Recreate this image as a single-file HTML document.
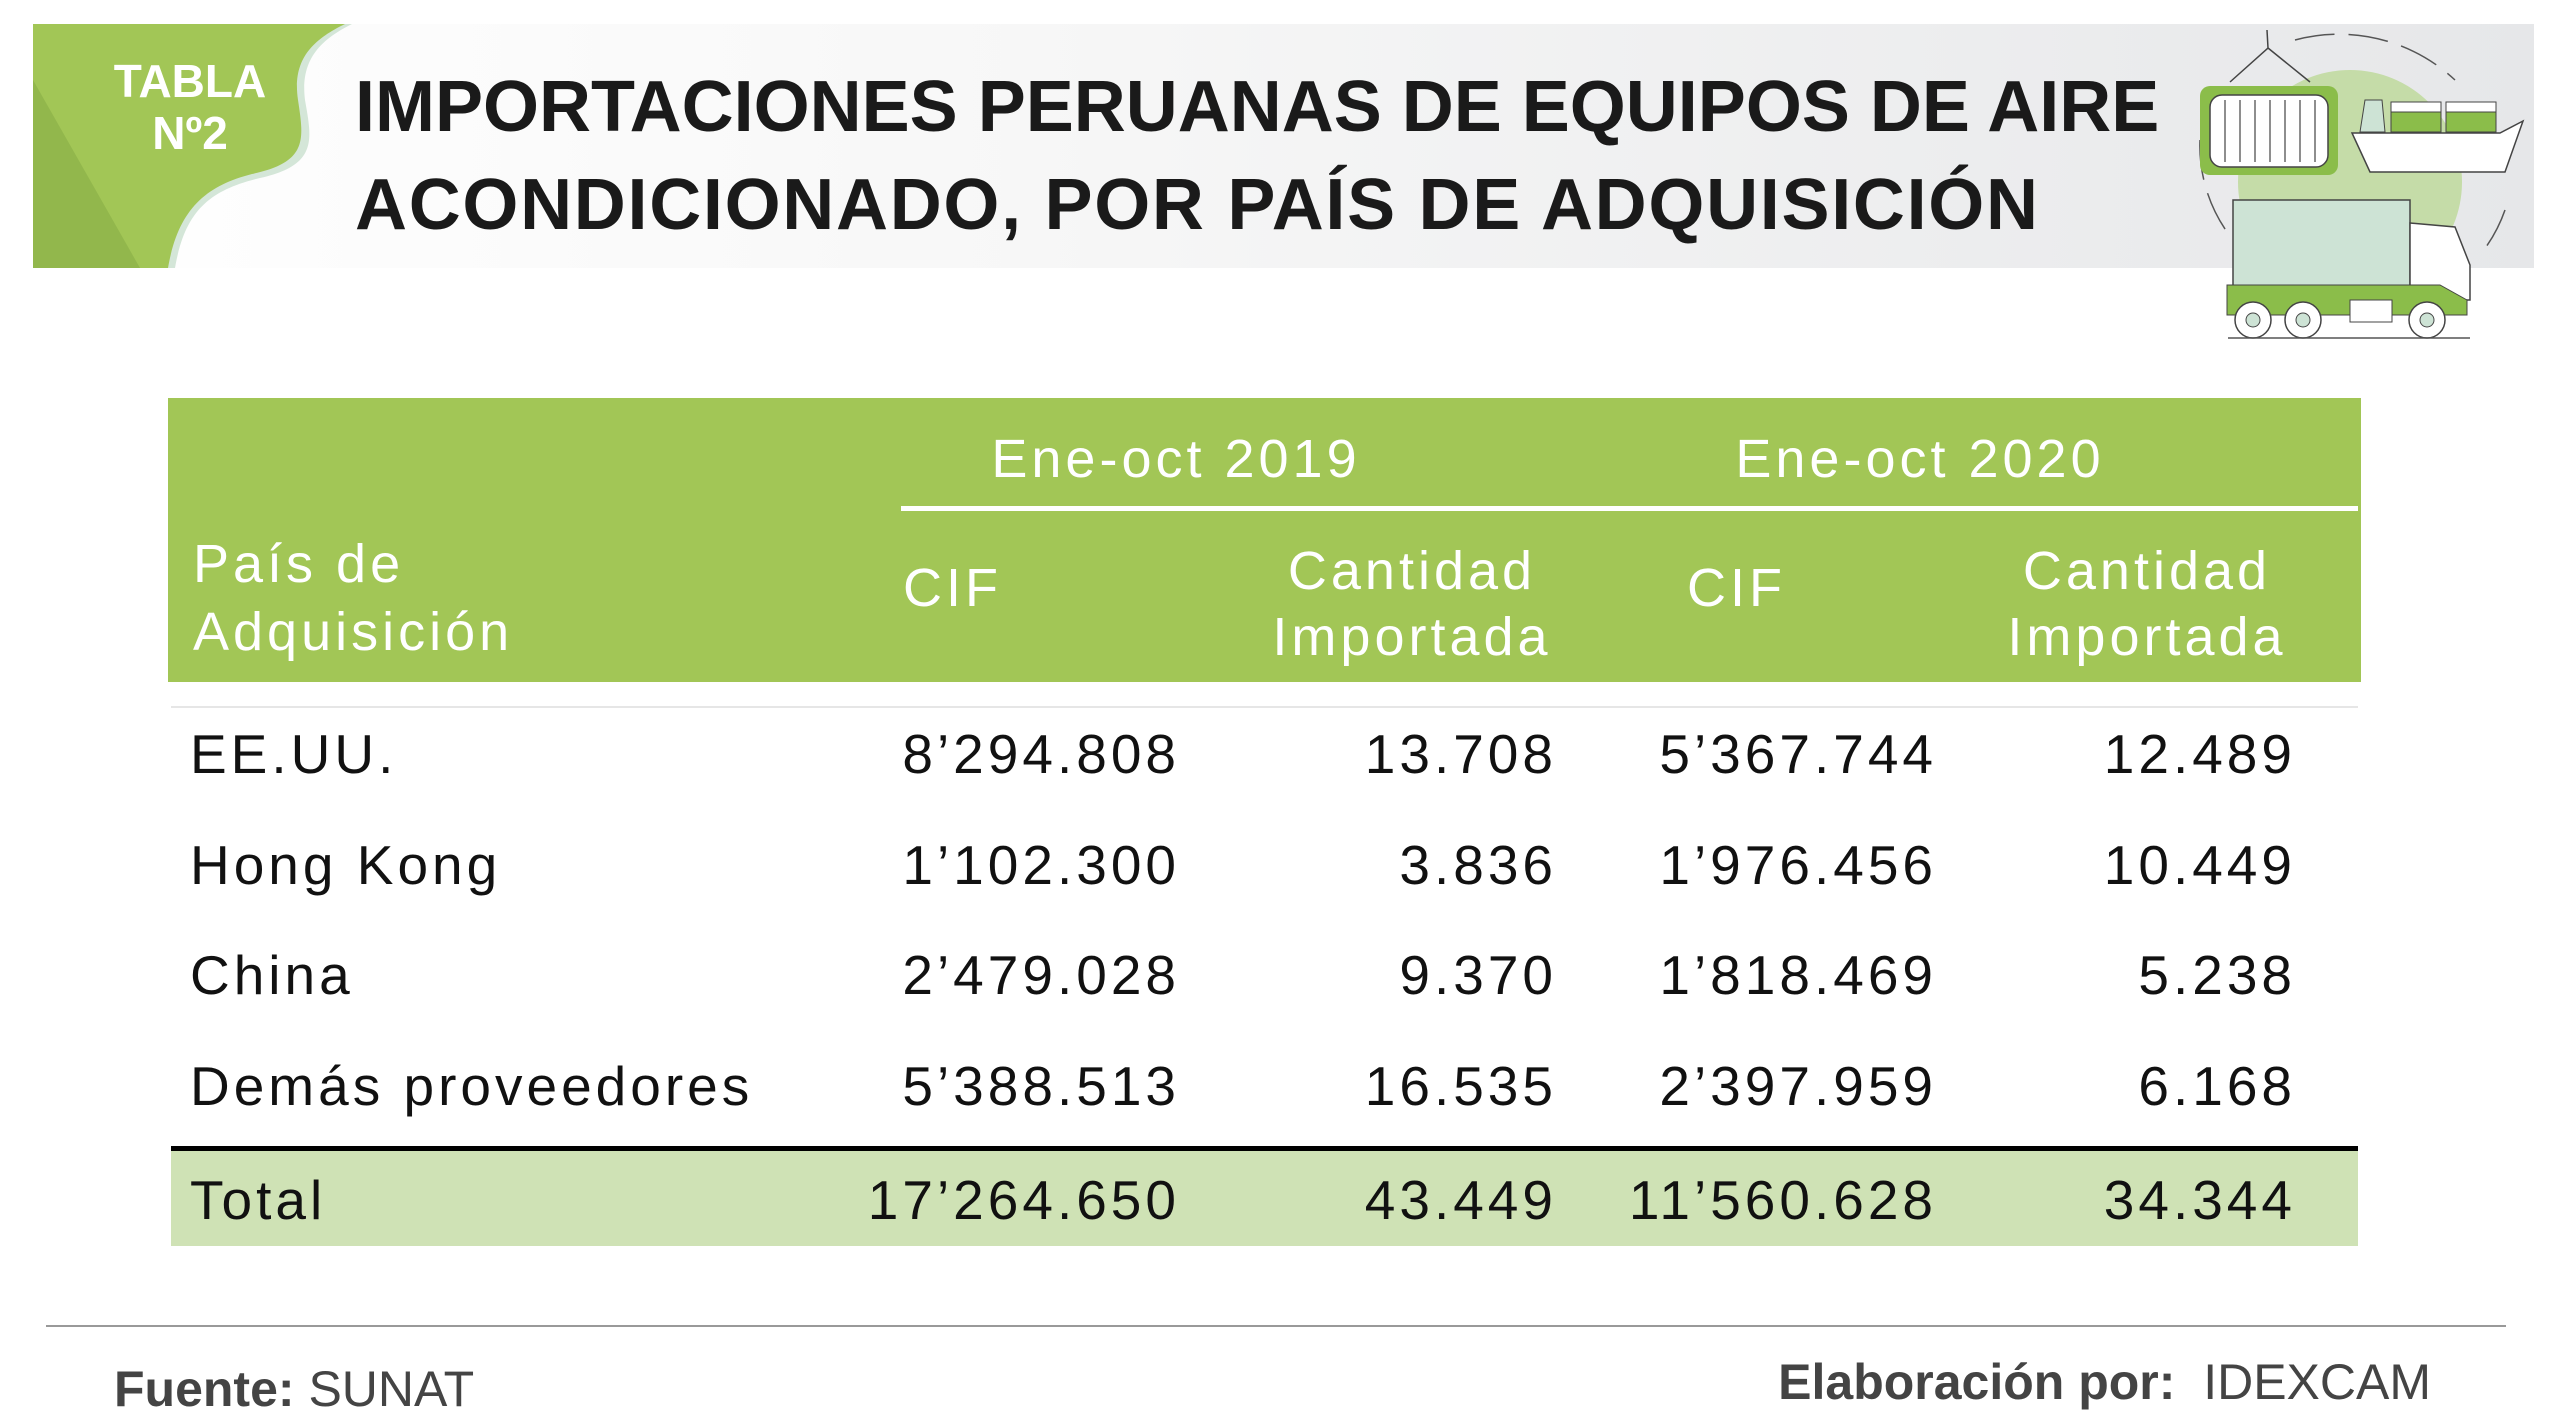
<!DOCTYPE html>
<html><head><meta charset="utf-8"><style>
html,body{margin:0;padding:0;background:#fff;}
body{width:2560px;height:1426px;position:relative;overflow:hidden;font-family:"Liberation Sans",sans-serif;}
.a{position:absolute;white-space:nowrap;}
.hd{color:#fff;font-size:54px;line-height:1;letter-spacing:4px;}
.num{font-size:55px;color:#111;line-height:1;text-align:right;letter-spacing:4px;margin-right:-4px;}
.lbl{font-size:55px;color:#111;line-height:1;letter-spacing:4px;}
</style></head><body>
<div class="a" style="left:33px;top:24px;width:2501px;height:244px;background:linear-gradient(90deg,#ffffff 0%,#f7f7f7 40%,#e6e7e9 100%);"></div>
<svg class="a" style="left:0;top:0" width="2560" height="360" viewBox="0 0 2560 360">
 <path d="M33 24 L352 24 C320 40 300 60 305 100 C312 140 318 165 260 178 C210 190 185 210 175 268 L33 268 Z" fill="#d4e6d8"/>
 <path d="M33 24 L345 24 C312 40 292 60 298 100 C304 140 308 162 252 174 C205 186 178 210 168 268 L33 268 Z" fill="#a2c656"/>
 <path d="M33 80 L140 268 L33 268 Z" fill="#8cb048" opacity="0.7"/>
 <circle cx="2350" cy="182" r="112" fill="#c5dca8"/>
 <path d="M2200 140 A150 150 0 0 0 2240 248 M2505 210 A150 150 0 0 1 2480 255 M2295 40 A170 170 0 0 1 2455 80" fill="none" stroke="#555" stroke-width="1.5" stroke-dasharray="40 14"/>
 <path d="M2267 30 L2268 48 L2230 82 M2268 48 L2310 82" fill="none" stroke="#444" stroke-width="1.5"/>
 <rect x="2200" y="86" width="138" height="89" rx="10" fill="#8bbd4a"/>
 <rect x="2210" y="95" width="118" height="72" rx="12" fill="#fff" stroke="#444" stroke-width="1.5"/>
 <path d="M2225 100v62M2240 100v62M2255 100v62M2270 100v62M2285 100v62M2300 100v62M2315 100v62" stroke="#444" stroke-width="1.2"/>
 <rect x="2391" y="102" width="50" height="30" fill="#fff" stroke="#444"/><rect x="2391" y="112" width="50" height="20" fill="#8bbd4a" stroke="#444"/>
 <rect x="2446" y="102" width="50" height="30" fill="#fff" stroke="#444"/><rect x="2446" y="112" width="50" height="20" fill="#8bbd4a" stroke="#444"/>
 <path d="M2365 100 L2382 100 L2385 132 L2360 132 Z" fill="#cde3d5" stroke="#444"/>
 <path d="M2352 133 L2500 133 L2523 121 L2505 172 L2370 172 Z" fill="#fff" stroke="#444" stroke-width="1.5"/>
 <rect x="2233" y="200" width="177" height="87" fill="#cde3d5" stroke="#444" stroke-width="1.5"/>
 <path d="M2410 223 L2455 227 L2470 265 L2470 300 L2410 300 Z" fill="#fff" stroke="#444" stroke-width="1.5"/>
 <path d="M2227 285 L2440 285 L2467 300 L2467 315 L2227 315 Z" fill="#8bbd4a" stroke="#444"/>
 <g fill="#fff" stroke="#444" stroke-width="1.5"><circle cx="2253" cy="320" r="18"/><circle cx="2303" cy="320" r="18"/><circle cx="2427" cy="320" r="18"/></g>
 <g fill="#cde3d5" stroke="#444"><circle cx="2253" cy="320" r="7"/><circle cx="2303" cy="320" r="7"/><circle cx="2427" cy="320" r="7"/></g>
 <rect x="2350" y="300" width="42" height="22" fill="#fff" stroke="#444"/>
 <line x1="2228" y1="338" x2="2470" y2="338" stroke="#555" stroke-width="1.5"/>
</svg>
<div class="a" style="left:95px;top:55px;width:190px;text-align:center;color:#fff;font-weight:bold;font-size:46px;line-height:52px;">TABLA<br>Nº2</div>
<div class="a" style="left:355px;top:58px;font-weight:bold;font-size:72px;line-height:98px;color:#1a1a1a;">IMPORTACIONES PERUANAS DE EQUIPOS DE AIRE<br><span style="letter-spacing:1.7px">ACONDICIONADO, POR PAÍS DE ADQUISICIÓN</span></div>

<div class="a" style="left:168px;top:398px;width:2193px;height:284px;background:#a2c656;"></div>
<div class="a" style="left:901px;top:506px;width:1457px;height:5px;background:#fff;"></div>
<div class="a hd" style="left:900px;width:552px;top:432px;text-align:center;">Ene-oct 2019</div>
<div class="a hd" style="left:1645px;width:550px;top:432px;text-align:center;">Ene-oct 2020</div>
<div class="a hd" style="left:193px;top:530px;line-height:68px;">País de<br>Adquisición</div>
<div class="a hd" style="left:903px;top:561px;">CIF</div>
<div class="a hd" style="left:1687px;top:561px;">CIF</div>
<div class="a hd" style="left:1212px;width:400px;top:538px;line-height:66px;text-align:center;">Cantidad<br>Importada</div>
<div class="a hd" style="left:1947px;width:400px;top:538px;line-height:66px;text-align:center;">Cantidad<br>Importada</div>
<div class="a" style="left:171px;top:706px;width:2187px;height:2px;background:#e6e6e6;"></div>

<div class="a" style="left:171px;top:1146px;width:2187px;height:5px;background:#000;"></div>
<div class="a" style="left:171px;top:1151px;width:2187px;height:95px;background:#cfe2b5;"></div>

<div class="a lbl" style="left:190px;top:727px;">EE.UU.</div>
<div class="a lbl" style="left:190px;top:838px;">Hong Kong</div>
<div class="a lbl" style="left:190px;top:948px;">China</div>
<div class="a lbl" style="left:190px;top:1059px;">Demás proveedores</div>
<div class="a lbl" style="left:190px;top:1173px;">Total</div>

<div class="a num" style="right:1384px;top:727px;">8’294.808</div>
<div class="a num" style="right:1007px;top:727px;">13.708</div>
<div class="a num" style="right:627px;top:727px;">5’367.744</div>
<div class="a num" style="right:268px;top:727px;">12.489</div>

<div class="a num" style="right:1384px;top:838px;">1’102.300</div>
<div class="a num" style="right:1007px;top:838px;">3.836</div>
<div class="a num" style="right:627px;top:838px;">1’976.456</div>
<div class="a num" style="right:268px;top:838px;">10.449</div>

<div class="a num" style="right:1384px;top:948px;">2’479.028</div>
<div class="a num" style="right:1007px;top:948px;">9.370</div>
<div class="a num" style="right:627px;top:948px;">1’818.469</div>
<div class="a num" style="right:268px;top:948px;">5.238</div>

<div class="a num" style="right:1384px;top:1059px;">5’388.513</div>
<div class="a num" style="right:1007px;top:1059px;">16.535</div>
<div class="a num" style="right:627px;top:1059px;">2’397.959</div>
<div class="a num" style="right:268px;top:1059px;">6.168</div>

<div class="a num" style="right:1384px;top:1173px;">17’264.650</div>
<div class="a num" style="right:1007px;top:1173px;">43.449</div>
<div class="a num" style="right:627px;top:1173px;">11’560.628</div>
<div class="a num" style="right:268px;top:1173px;">34.344</div>

<div class="a" style="left:46px;top:1325px;width:2460px;height:2px;background:#999;"></div>
<div class="a" style="left:114px;top:1360px;font-size:50px;color:#444;"><b>Fuente:</b> SUNAT</div>
<div class="a" style="right:129px;top:1353px;font-size:50px;color:#444;"><b>Elaboración por:</b>&nbsp; IDEXCAM</div>
</body></html>
